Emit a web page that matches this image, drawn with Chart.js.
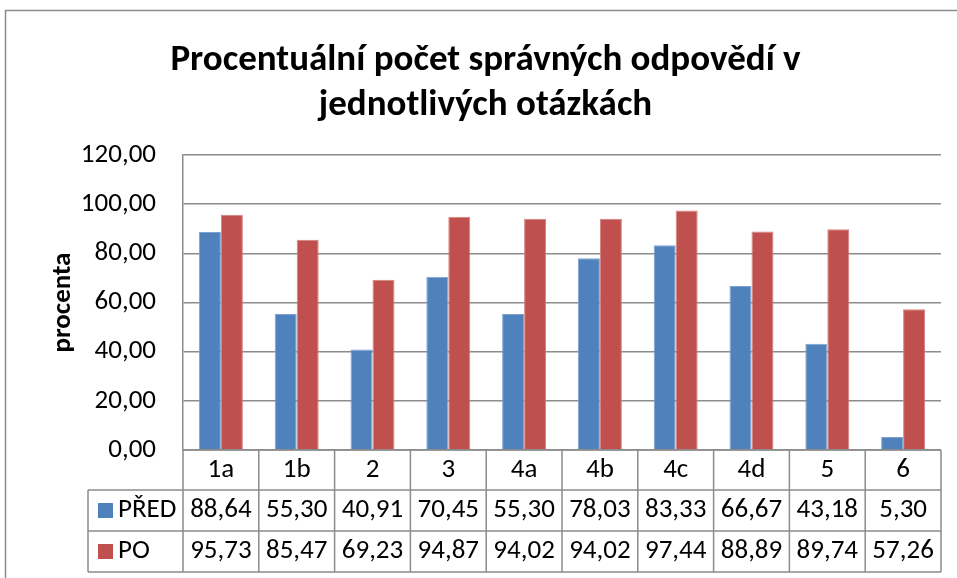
<!DOCTYPE html>
<html>
<head>
<meta charset="utf-8">
<script src="https://cdn.jsdelivr.net/npm/chart.js@4.4.0/dist/chart.umd.min.js"></script>
<style>
  body { margin: 0; background: #fff; }
  #wrap { width: 957px; height: 578px; }
</style>
</head>
<body>
<div id="wrap"><canvas id="myChart" width="957" height="578"></canvas></div>
<script>
// data
var categories = ['1a', '1b', '2', '3', '4a', '4b', '4c', '4d', '5', '6'];
var pred = [88.64, 55.30, 40.91, 70.45, 55.30, 78.03, 83.33, 66.67, 43.18, 5.30];
var po = [95.73, 85.47, 69.23, 94.87, 94.02, 94.02, 97.44, 88.89, 89.74, 57.26];
var seriesNames = ['PŘED', 'PO'];
var seriesColors = ['#4F81BD', '#C0504D'];

var FONT = "Carlito, 'Liberation Sans Narrow', Lato, 'Open Sans', sans-serif";
var LINE = '#8c8c8c';
var TXT = 27;

function fmt(v) {
  return v.toFixed(2).replace('.', ',');
}

// frame round the whole chart
var framePlugin = {
  id: 'frame',
  beforeDraw: function (chart) {
    var ctx = chart.ctx;
    ctx.save();
    ctx.strokeStyle = LINE;
    ctx.lineWidth = 1.5;
    ctx.beginPath();
    ctx.moveTo(5.5, 578);
    ctx.lineTo(5.5, 10.5);
    ctx.lineTo(957, 10.5);
    ctx.stroke();
    ctx.restore();
  }
};

// Excel style data table under the plot
var tablePlugin = {
  id: 'dataTable',
  afterDraw: function (chart) {
    var ctx = chart.ctx;
    var a = chart.chartArea;
    var x = chart.scales.x;
    var w = (a.right - a.left) / categories.length;
    var rows = [a.bottom, a.bottom + 40, a.bottom + 81, a.bottom + 122];
    var legendLeft = 88;

    ctx.save();
    ctx.strokeStyle = LINE;
    ctx.lineWidth = 1.5;
    ctx.beginPath();
    for (var r = 1; r < rows.length; r++) {
      ctx.moveTo(legendLeft, rows[r]);
      ctx.lineTo(a.right, rows[r]);
    }
    ctx.moveTo(a.left, rows[0]);
    ctx.lineTo(a.right, rows[0]);
    ctx.moveTo(legendLeft, rows[1]);
    ctx.lineTo(legendLeft, rows[3]);
    for (var i = 0; i <= categories.length; i++) {
      var cx = i < categories.length ? x.getPixelForValue(i) - w / 2 : x.getPixelForValue(i - 1) + w / 2;
      ctx.moveTo(cx, rows[0]);
      ctx.lineTo(cx, rows[3]);
    }
    ctx.stroke();

    ctx.fillStyle = '#000';
    ctx.font = TXT + 'px ' + FONT;
    ctx.textAlign = 'center';
    ctx.textBaseline = 'middle';
    var lists = [pred, po];
    categories.forEach(function (c, i) {
      var px = x.getPixelForValue(i);
      ctx.fillText(c, px, (rows[0] + rows[1]) / 2);
      for (var s = 0; s < lists.length; s++) {
        ctx.fillText(fmt(lists[s][i]), px, (rows[s + 1] + rows[s + 2]) / 2);
      }
    });

    ctx.textAlign = 'left';
    for (var s = 0; s < seriesNames.length; s++) {
      var cy = (rows[s + 1] + rows[s + 2]) / 2;
      ctx.fillStyle = seriesColors[s];
      ctx.fillRect(98, cy - 7.5, 15, 15);
      ctx.fillStyle = '#000';
      ctx.fillText(seriesNames[s], 118, cy);
    }
    ctx.restore();
  }
};

var ctx = document.getElementById('myChart').getContext('2d');
var chart = new Chart(ctx, {
  type: 'bar',
  data: {
    labels: categories,
    datasets: [{
      label: seriesNames[0],
      data: pred,
      backgroundColor: seriesColors[0],
      borderColor: '#7EA2CF',
      borderWidth: 1
    }, {
      label: seriesNames[1],
      data: po,
      backgroundColor: seriesColors[1],
      borderColor: '#D4807E',
      borderWidth: 1
    }]
  },
  options: {
    responsive: false,
    animation: false,
    layout: { padding: { left: 30, right: 16, top: 0, bottom: 128 } },
    datasets: { bar: { categoryPercentage: 0.58, barPercentage: 1 } },
    plugins: {
      legend: { display: false },
      tooltip: { enabled: false },
      title: {
        display: true,
        text: ['Procentuální počet správných odpovědí v', 'jednotlivých otázkách'],
        color: '#000',
        font: { family: FONT, size: 37, weight: 'bold', lineHeight: 1.22 },
        padding: { top: 38, bottom: 26.7 }
      }
    },
    scales: {
      x: { display: false },
      y: {
        min: 0,
        max: 120,
        ticks: {
          stepSize: 20,
          color: '#000',
          padding: 27,
          font: { family: FONT, size: TXT },
          callback: function (v) { return fmt(v); }
        },
        grid: { color: LINE, lineWidth: 1.5, drawTicks: false },
        border: { display: true, color: LINE, width: 1.5 },
        title: {
          display: true,
          text: 'procenta',
          color: '#000',
          font: { family: FONT, size: 27, weight: 'bold' },
          padding: { top: 16.8, bottom: 0 }
        },
        afterFit: function (scale) { scale.width = 153; }
      }
    }
  },
  plugins: [framePlugin, tablePlugin]
});
</script>
</body>
</html>
